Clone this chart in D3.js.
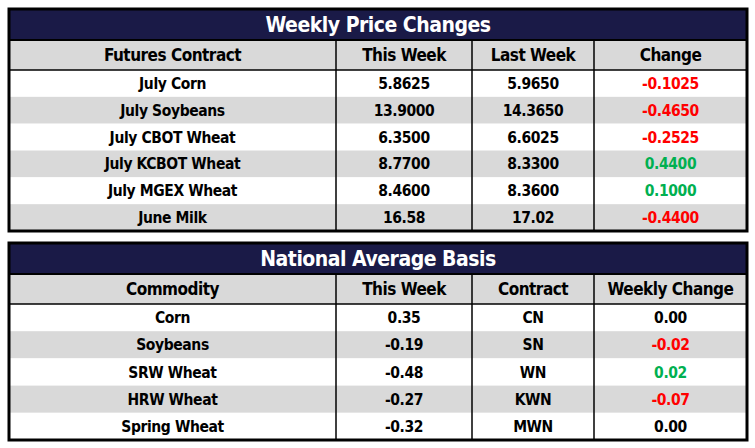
<!DOCTYPE html>
<html><head><meta charset="utf-8">
<script src="https://cdn.jsdelivr.net/npm/d3@7"></script>
<style>body{margin:0;background:#fff}</style>
</head><body>
<svg id="canvas" width="755" height="448"></svg>
<script>
// ---- data ----
let priceTitle = 'Weekly Price Changes';
let priceHeaders = ['Futures Contract', 'This Week', 'Last Week', 'Change'];
let contracts = ['July Corn', 'July Soybeans', 'July CBOT Wheat', 'July KCBOT Wheat', 'July MGEX Wheat', 'June Milk'];
let thisWeek = ['5.8625', '13.9000', '6.3500', '8.7700', '8.4600', '16.58'];
let lastWeek = ['5.9650', '14.3650', '6.6025', '8.3300', '8.3600', '17.02'];
let change = ['-0.1025', '-0.4650', '-0.2525', '0.4400', '0.1000', '-0.4400'];

let basisTitle = 'National Average Basis';
let basisHeaders = ['Commodity', 'This Week', 'Contract', 'Weekly Change'];
let commodities = ['Corn', 'Soybeans', 'SRW Wheat', 'HRW Wheat', 'Spring Wheat'];
let basisWeek = ['0.35', '-0.19', '-0.48', '-0.27', '-0.32'];
let basisContract = ['CN', 'SN', 'WN', 'KWN', 'MWN'];
let basisChange = ['0.00', '-0.02', '0.02', '-0.07', '0.00'];

let canvas = d3.select('#canvas');
let font = "'DejaVu Sans Condensed',sans-serif";
let colEdges = [9, 336, 472, 594, 747];

let colorFor = (v) => {
  let n = +v;
  if (n < 0) return '#ff0000';
  if (n > 0) return '#00b050';
  return '#000';
};

// draw one table: title bar, header row, body rows
let drawTable = (top, bottom, title, headers, columns) => {
  let g = canvas.append('g');
  let nRows = columns[0].length;
  let titleH = 31, headH = 30;
  let y = d3.scaleBand().domain(d3.range(nRows)).range([top + titleH + headH, bottom]);
  let x = d3.scaleOrdinal().domain(d3.range(4)).range(colEdges.slice(0, 4));
  let w = (i) => colEdges[i + 1] - colEdges[i];

  g.append('rect').attr('x', colEdges[0]).attr('y', top).attr('width', 738).attr('height', titleH).attr('fill', '#1a1a47');
  g.append('text').attr('x', 378).attr('y', top + titleH / 2 + 1).attr('text-anchor', 'middle')
    .attr('dominant-baseline', 'middle').attr('fill', '#fff').attr('font-family', font)
    .attr('font-weight', 'bold').attr('font-size', 21).attr('letter-spacing', -0.5).text(title);

  g.append('rect').attr('x', colEdges[0]).attr('y', top + titleH).attr('width', 738).attr('height', headH).attr('fill', '#d9d9d9');
  g.selectAll('.head').data(headers).enter().append('text')
    .attr('x', (d, i) => x(i) + w(i) / 2).attr('y', top + titleH + headH / 2 + 1)
    .attr('text-anchor', 'middle').attr('dominant-baseline', 'middle')
    .attr('font-family', font).attr('font-weight', 'bold').attr('font-size', 17).attr('letter-spacing', -0.5).text(d => d);

  g.selectAll('.row').data(d3.range(nRows)).enter().append('rect')
    .attr('x', colEdges[0]).attr('y', d => y(d)).attr('width', 738).attr('height', y.bandwidth())
    .attr('fill', d => d % 2 ? '#d9d9d9' : '#fff');

  columns.forEach((col, ci) => {
    g.selectAll('.c' + ci).data(col).enter().append('text')
      .attr('x', x(ci) + w(ci) / 2).attr('y', (d, i) => y(i) + y.bandwidth() / 2 + 1)
      .attr('text-anchor', 'middle').attr('dominant-baseline', 'middle')
      .attr('font-family', font).attr('font-weight', 'bold').attr('font-size', 15.5).attr('letter-spacing', -0.4)
      .attr('fill', d => ci === 3 ? colorFor(d) : '#000').text(d => d);
  });

  // grid lines
  g.append('line').attr('x1', colEdges[0]).attr('x2', 747).attr('y1', top + titleH).attr('y2', top + titleH).attr('stroke', '#000').attr('stroke-width', 2);
  g.append('line').attr('x1', colEdges[0]).attr('x2', 747).attr('y1', top + titleH + headH).attr('y2', top + titleH + headH).attr('stroke', '#000').attr('stroke-width', 1.5);
  g.selectAll('.vl').data(colEdges.slice(1, 4)).enter().append('line')
    .attr('x1', d => d).attr('x2', d => d).attr('y1', top + titleH).attr('y2', bottom)
    .attr('stroke', '#000').attr('stroke-width', 1.5);
  g.append('rect').attr('x', colEdges[0]).attr('y', top).attr('width', 738).attr('height', bottom - top)
    .attr('fill', 'none').attr('stroke', '#000').attr('stroke-width', 3);
};

drawTable(9, 231, priceTitle, priceHeaders, [contracts, thisWeek, lastWeek, change]);
drawTable(243, 440, basisTitle, basisHeaders, [commodities, basisWeek, basisContract, basisChange]);
</script>
</body></html>
